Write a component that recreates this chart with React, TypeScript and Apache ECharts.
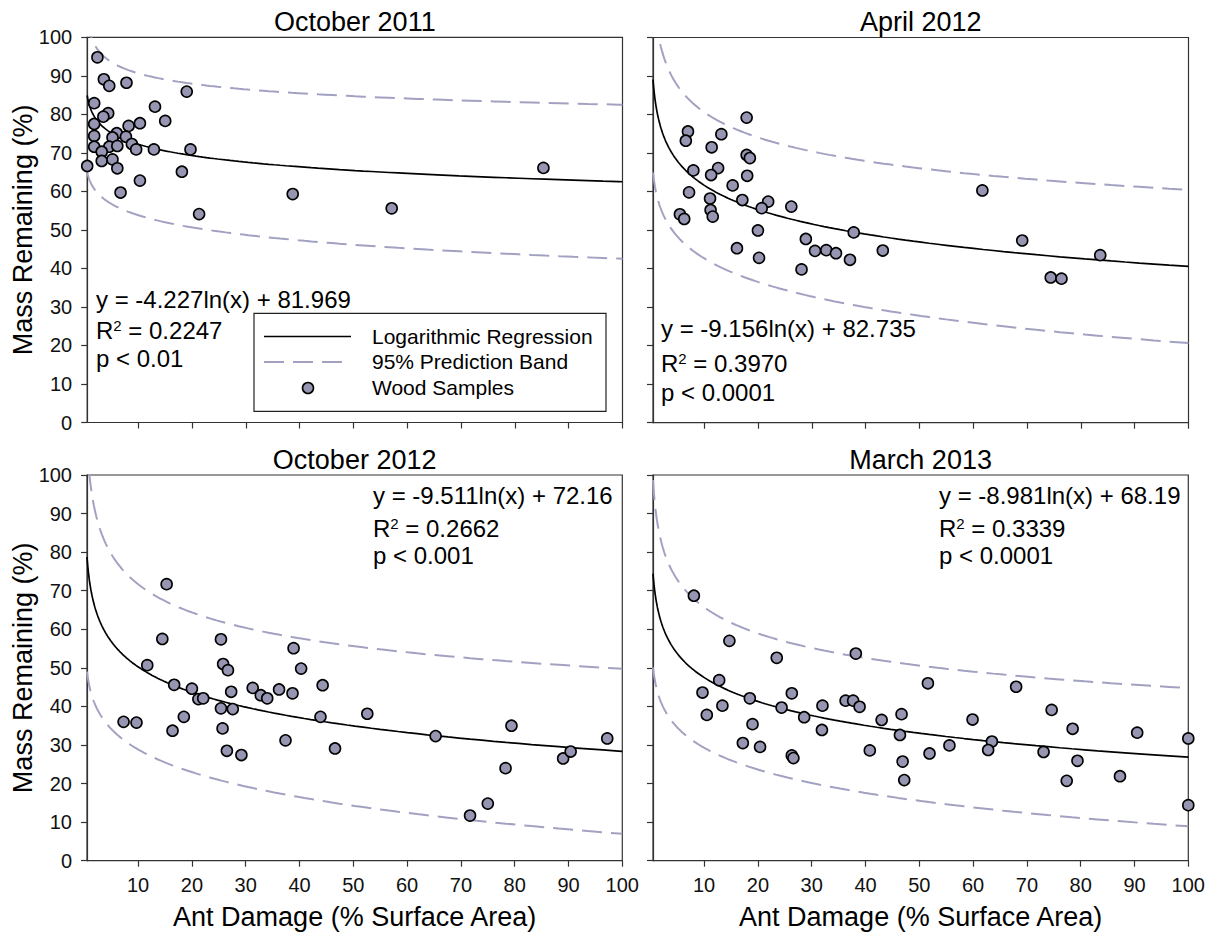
import React, { useEffect, useRef } from "react";
import * as echarts from "echarts";

const FONT = '"Liberation Sans", Arial, Helvetica, sans-serif';

// ---------- data ----------
const panelTitles = ["October 2011", "April 2012", "October 2012", "March 2013"];
const xTickValues = [10, 20, 30, 40, 50, 60, 70, 80, 90, 100];
const xAxisTitle = "Ant Damage (% Surface Area)";
const yAxisTitle = "Mass Remaining (%)";
const legendLabels = ["Logarithmic Regression", "95% Prediction Band", "Wood Samples"];

const oct2011Damage = [2.4, 3.6, 4.6, 7.8, 19.0, 1.8, 13.1, 4.4, 3.5, 15.0, 1.8, 8.2, 10.3, 6.0, 7.7, 5.2, 1.8, 1.8, 4.6, 6.1, 8.8, 9.6, 12.9, 19.7, 3.2, 0.5, 3.2, 5.2, 6.1, 18.1, 10.3, 6.7, 21.3, 38.7, 57.1, 85.3];
const oct2011Mass = [94.8, 89.1, 87.4, 88.2, 85.9, 82.9, 82.0, 80.3, 79.4, 78.3, 77.5, 77.0, 77.7, 75.1, 74.2, 74.0, 74.4, 71.6, 71.6, 71.8, 72.3, 70.9, 70.9, 70.9, 70.3, 66.6, 67.9, 68.3, 66.0, 65.1, 62.8, 59.7, 54.1, 59.3, 55.6, 66.1];

const apr2012Damage = [17.9, 7.0, 6.6, 13.2, 11.4, 17.9, 18.5, 8.0, 12.6, 11.3, 18.0, 15.3, 7.2, 11.1, 17.1, 21.9, 20.7, 26.2, 11.2, 11.6, 5.5, 6.3, 20.0, 37.8, 28.9, 16.1, 30.6, 32.7, 34.5, 37.1, 20.2, 28.1, 43.2, 61.7, 69.1, 74.4, 76.4, 83.6];
const apr2012Mass = [79.2, 75.6, 73.2, 74.9, 71.5, 69.5, 68.7, 65.5, 66.1, 64.3, 64.1, 61.6, 59.8, 58.2, 57.8, 57.4, 55.7, 56.1, 55.2, 53.5, 54.1, 52.9, 49.9, 49.4, 47.7, 45.3, 44.6, 44.8, 44.0, 42.3, 42.8, 39.8, 44.7, 60.3, 47.3, 37.7, 37.4, 43.5];

const oct2012Damage = [15.3, 14.5, 25.4, 38.9, 11.7, 25.8, 26.7, 40.3, 16.7, 44.3, 20.0, 31.3, 36.2, 21.2, 22.1, 32.8, 34.0, 27.3, 38.7, 25.4, 27.6, 18.5, 43.9, 7.3, 9.7, 16.4, 25.7, 26.5, 29.2, 37.4, 46.6, 52.6, 65.3, 71.7, 75.0, 78.3, 79.4, 89.0, 90.4, 97.2];
const oct2012Mass = [71.7, 57.5, 57.4, 55.1, 50.7, 51.0, 49.4, 49.8, 45.6, 45.5, 44.6, 44.8, 44.4, 41.9, 42.1, 42.9, 42.1, 43.8, 43.4, 39.5, 39.3, 37.3, 37.3, 36.0, 35.8, 33.7, 34.3, 28.5, 27.4, 31.2, 29.1, 38.1, 32.3, 11.7, 14.8, 24.0, 35.0, 26.5, 28.3, 31.7];

const mar2013Damage = [8.1, 14.7, 23.5, 38.2, 12.8, 9.7, 18.5, 26.3, 13.4, 24.4, 32.0, 36.3, 37.7, 38.9, 10.5, 28.6, 19.0, 43.0, 46.7, 31.9, 46.4, 17.2, 20.4, 26.3, 26.6, 40.8, 51.6, 68.0, 74.6, 59.9, 78.5, 90.5, 100, 55.6, 63.5, 62.8, 51.9, 73.1, 46.9, 79.4, 47.2, 77.4, 87.3, 100];
const mar2013Mass = [68.7, 57.0, 52.6, 53.7, 46.8, 43.6, 42.1, 43.4, 40.2, 39.7, 40.2, 41.5, 41.5, 39.9, 37.8, 37.2, 35.4, 36.5, 38.0, 33.9, 32.6, 30.5, 29.5, 27.3, 26.6, 28.6, 46.0, 45.1, 39.1, 36.6, 34.2, 33.2, 31.7, 29.9, 30.9, 28.7, 27.8, 28.2, 25.7, 25.9, 20.9, 20.7, 21.9, 14.4];

// printed regression equations
const fitSlopes = [-4.227, -9.156, -9.511, -8.981];
const fitIntercepts = [81.969, 82.735, 72.16, 68.19];
const r2Values = ["0.2247", "0.3970", "0.2662", "0.3339"];
const pValues = ["p < 0.01", "p < 0.0001", "p < 0.001", "p < 0.0001"];

const damageSets = [oct2011Damage, apr2012Damage, oct2012Damage, mar2013Damage];
const massSets = [oct2011Mass, apr2012Mass, oct2012Mass, mar2013Mass];

// ---------- styling / layout ----------
const MARKER = "#9796b2";
const BAND = "#a2a1c2";
const AXIS = "#333";

const grids = [
  { left: 87.2, top: 37.3, width: 535.3, height: 385.2 },
  { left: 653, top: 37.5, width: 535.5, height: 385.2 },
  { left: 87, top: 475, width: 535.3, height: 385.7 },
  { left: 653, top: 475, width: 535.3, height: 385.7 },
];
const annot = [
  { x: 96, y: [299, 330.5, 358] },
  { x: 661, y: [328.3, 363.3, 392] },
  { x: 373, y: [495.7, 528, 555] },
  { x: 939, y: [495.7, 528.3, 555.3] },
];

function tCrit(df: number) {
  const z = 1.959964;
  return (
    z +
    (z ** 3 + z) / (4 * df) +
    (5 * z ** 5 + 16 * z ** 3 + 3 * z) / (96 * df * df) +
    (3 * z ** 7 + 19 * z ** 5 + 17 * z ** 3 - 15 * z) / (384 * df ** 3)
  );
}

function buildCurves(xs: number[], ys: number[], a: number, b: number) {
  const n = xs.length;
  const lx = xs.map((v) => Math.log(v));
  const m = lx.reduce((s, v) => s + v, 0) / n;
  const sxx = lx.reduce((s, v) => s + (v - m) ** 2, 0);
  const sse = ys.reduce((s, y, i) => s + (y - (a + b * lx[i])) ** 2, 0);
  const se = Math.sqrt(sse / (n - 2));
  const t = tCrit(n - 2);
  const fit: number[][] = [];
  const up: number[][] = [];
  const lo: number[][] = [];
  const xsCurve: number[] = [];
  for (let v = 0.5; v < 100; v *= 1.03) xsCurve.push(v);
  xsCurve.push(100);
  xsCurve.forEach((x) => {
    const l = Math.log(x);
    const yh = a + b * l;
    const h = t * se * Math.sqrt(1 + 1 / n + (l - m) ** 2 / sxx);
    fit.push([x, yh]);
    up.push([x, yh + h]);
    lo.push([x, yh - h]);
  });
  return { fit, up, lo };
}

function txt(x: number, y: number, text: string, fontSize: number, align = "left", extra: any = {}) {
  return {
    type: "text",
    x,
    y,
    z: 100,
    ...extra,
    style: {
      text,
      fontSize,
      fontFamily: FONT,
      fill: "#000",
      align,
      verticalAlign: "middle",
      textAlign: align,
      textVerticalAlign: "middle",
      ...(extra.style || {}),
    },
  };
}

export default function App() {
  const ref = useRef<HTMLDivElement>(null);
  useEffect(() => {
    if (!ref.current) return;
    const chart = echarts.init(ref.current, undefined, { renderer: "svg" });

    const xAxis: any[] = [];
    const yAxis: any[] = [];
    const series: any[] = [];
    const graphic: any[] = [];

    grids.forEach((g, i) => {
      const bottom = i >= 2;
      const left = i % 2 === 0;
      xAxis.push({
        gridIndex: i,
        type: "value",
        min: 0.5,
        max: 100,
        axisLine: { show: true, onZero: false, lineStyle: { color: AXIS, width: 1.2 } },
        axisTick: { show: true, length: 6, customValues: xTickValues, lineStyle: { color: AXIS, width: 1.2 } },
        axisLabel: {
          show: bottom,
          customValues: xTickValues,
          fontSize: 20,
          fontFamily: FONT,
          color: "#111",
          margin: 14,
        },
        splitLine: { show: false },
      });
      yAxis.push({
        gridIndex: i,
        type: "value",
        min: 0,
        max: 100,
        interval: 10,
        axisLine: { show: true, onZero: false, lineStyle: { color: AXIS, width: 1.2 } },
        axisTick: { show: true, length: 6, lineStyle: { color: AXIS, width: 1.2 } },
        axisLabel: { show: left, fontSize: 20, fontFamily: FONT, color: "#111", margin: 15 },
        splitLine: { show: false },
      });

      const xs = damageSets[i];
      const ys = massSets[i];
      const c = buildCurves(xs, ys, fitIntercepts[i], fitSlopes[i]);
      const lineBase = {
        type: "line",
        xAxisIndex: i,
        yAxisIndex: i,
        showSymbol: false,
        symbol: "none",
        silent: true,
        z: 2,
      };
      series.push({ ...lineBase, data: c.up, lineStyle: { color: BAND, width: 2, type: [20, 9] } });
      series.push({ ...lineBase, data: c.lo, lineStyle: { color: BAND, width: 2, type: [20, 9] } });
      series.push({ ...lineBase, data: c.fit, lineStyle: { color: "#000", width: 1.7 } });
      series.push({
        type: "scatter",
        xAxisIndex: i,
        yAxisIndex: i,
        clip: false,
        z: 5,
        symbol: "circle",
        symbolSize: 11,
        data: xs.map((x, k) => [x, ys[k]]),
        itemStyle: { color: MARKER, borderColor: "#000", borderWidth: 1.6, opacity: 1 },
      });

      // title
      graphic.push(txt(g.left + g.width / 2, g.top - 15.5, panelTitles[i], 27, "center"));
      // annotation
      const a = annot[i];
      graphic.push(
        txt(a.x, a.y[0], `y = ${fitSlopes[i]}ln(x) + ${fitIntercepts[i]}`, 24)
      );
      graphic.push({
        type: "text",
        x: a.x,
        y: a.y[1],
        z: 100,
        style: {
          text: `{n|R}{s|2}{n| = ${r2Values[i]}}`,
          fontFamily: FONT,
          fontSize: 24,
          fill: "#000",
          align: "left",
          verticalAlign: "middle",
          textAlign: "left",
          textVerticalAlign: "middle",
          rich: {
            n: { fontSize: 24, fontFamily: FONT, lineHeight: 25, fill: "#000" },
            s: { fontSize: 15, fontFamily: FONT, lineHeight: 15, verticalAlign: "top", fill: "#000" },
          },
        },
      });
      graphic.push(txt(a.x, a.y[2], pValues[i], 24));

      if (bottom) {
        graphic.push(txt(g.left + g.width / 2, 917, xAxisTitle, 27, "center"));
      }
      if (left) {
        graphic.push(txt(23, g.top + g.height / 2, yAxisTitle, 27, "center", { rotation: Math.PI / 2 }));
      }
    });

    // legend box in first panel
    graphic.push({
      type: "rect",
      z: 90,
      shape: { x: 254, y: 313.3, width: 352, height: 98 },
      style: { fill: "#fff", stroke: "#222", lineWidth: 1.2 },
    });
    graphic.push({
      type: "line",
      z: 95,
      shape: { x1: 264, y1: 336.5, x2: 351, y2: 336.5 },
      style: { stroke: "#000", lineWidth: 1.7 },
    });
    graphic.push({
      type: "line",
      z: 95,
      shape: { x1: 264, y1: 362, x2: 343, y2: 362 },
      style: { stroke: BAND, lineWidth: 2, lineDash: [20, 9] },
    });
    graphic.push({
      type: "circle",
      z: 95,
      shape: { cx: 308, cy: 388, r: 5.5 },
      style: { fill: MARKER, stroke: "#000", lineWidth: 1.6 },
    });
    legendLabels.forEach((l, k) => {
      graphic.push(txt(372, [336, 361.7, 387.7][k], l, 21));
    });

    chart.setOption({
      animation: false,
      backgroundColor: "#fff",
      textStyle: { fontFamily: FONT },
      grid: grids.map((g) => ({
        ...g,
        show: true,
        borderColor: AXIS,
        borderWidth: 1.2,
        backgroundColor: "transparent",
        containLabel: false,
      })),
      xAxis,
      yAxis,
      series,
      graphic,
    });
    return () => chart.dispose();
  }, []);

  return (
    <div
      ref={ref}
      style={{ position: "absolute", left: 0, top: 0, width: 1217, height: 935, background: "#fff" }}
    />
  );
}
